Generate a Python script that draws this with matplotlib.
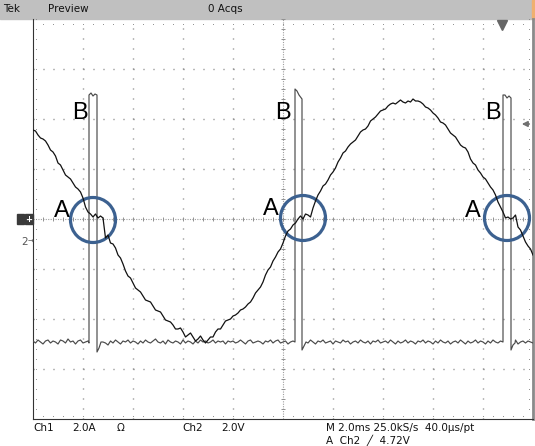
import numpy as np
import matplotlib
matplotlib.use("Agg")
import matplotlib.pyplot as plt
from matplotlib.patches import Circle, Rectangle

# time grid of the record, ms (2 ms/div, 10 div)
t_ms = np.round(np.arange(-10.0, 10.001, 0.1), 2)

# Ch1 current, A (2.0 A/div)
ch1_amps = [
    3.56, 3.52, 3.36, 3.24, 3.20, 3.12, 2.96, 2.76, 2.68, 2.52,
    2.24, 2.16, 1.96, 1.76, 1.68, 1.60, 1.44, 1.28, 1.20, 1.08,
    0.84, 0.48, 0.28, 0.20, 0.08, 0.20, 0.04, 0.12, 0.04, -0.76,
    -0.64, -0.96, -1.00, -1.16, -1.44, -1.56, -1.80, -2.08, -2.28, -2.36,
    -2.56, -2.76, -2.84, -2.92, -3.08, -3.24, -3.28, -3.32, -3.48, -3.64,
    -3.68, -3.72, -3.88, -4.04, -4.08, -4.12, -4.24, -4.40, -4.40, -4.36,
    -4.52, -4.72, -4.64, -4.56, -4.72, -4.88, -4.80, -4.68, -4.84, -4.96,
    -4.84, -4.72, -4.72, -4.52, -4.40, -4.40, -4.24, -4.08, -4.04, -4.00,
    -3.88, -3.84, -3.76, -3.64, -3.60, -3.52, -3.40, -3.32, -3.16, -2.96,
    -2.84, -2.72, -2.52, -2.24, -2.04, -1.92, -1.68, -1.52, -1.32, -1.20,
    -0.96, -0.68, -0.48, -0.40, -0.24, -0.16, 0.00, 0.12, 0.00, 0.20,
    0.16, 0.08, 0.44, 0.72, 0.96, 1.12, 1.32, 1.40, 1.56, 1.76,
    1.88, 2.04, 2.28, 2.44, 2.64, 2.72, 2.88, 3.00, 3.08, 3.16,
    3.32, 3.48, 3.56, 3.60, 3.72, 3.92, 4.00, 4.08, 4.20, 4.32,
    4.36, 4.40, 4.52, 4.60, 4.64, 4.60, 4.68, 4.76, 4.68, 4.64,
    4.72, 4.68, 4.80, 4.72, 4.72, 4.68, 4.60, 4.48, 4.44, 4.36,
    4.24, 4.16, 4.04, 3.88, 3.84, 3.76, 3.60, 3.44, 3.36, 3.28,
    3.12, 2.96, 2.88, 2.84, 2.68, 2.40, 2.24, 2.16, 1.96, 1.84,
    1.68, 1.60, 1.44, 1.28, 1.16, 0.96, 0.68, 0.48, 0.28, 0.04,
    0.08, 0.00, 0.04, 0.16, -0.32, -0.44, -0.68, -0.92, -1.08, -1.20,
    -1.44,
]

# Ch2 baseline, V (2.0 V/div)
ch2_volts = [
    -3.96, -4.04, -3.92, -4.00, -4.08, -3.96, -3.92, -4.04, -3.96, -4.00,
    -4.08, -3.92, -3.96, -4.04, -3.88, -4.00, -3.96, -4.08, -3.96, -3.92,
    -4.04, -4.00, -3.96, -4.08, -4.04, -3.96, -4.00, -4.08, -4.00, -4.04,
    -4.12, -3.96, -4.04, -3.92, -4.00, -4.08, -3.96, -4.00, -3.92, -4.04,
    -3.96, -4.00, -4.08, -3.96, -4.04, -3.92, -4.00, -4.04, -3.96, -3.88,
    -4.00, -4.04, -3.96, -4.08, -3.92, -4.00, -4.04, -3.96, -4.00, -4.08,
    -3.92, -4.04, -3.96, -4.00, -4.08, -3.96, -4.04, -3.92, -4.00, -3.96,
    -4.04, -4.00, -3.92, -4.04, -3.96, -4.00, -3.96, -4.08, -3.96, -4.00,
    -3.96, -4.04, -4.00, -3.92, -4.00, -4.08, -3.96, -3.92, -4.04, -4.00,
    -3.96, -4.00, -4.08, -3.96, -4.00, -3.92, -4.04, -3.96, -3.92, -4.04,
    -4.00, -3.96, -4.08, -4.00, -3.96, -4.04, -4.00, -4.08, -4.00, -3.96,
    -4.04, -3.92, -4.00, -4.08, -3.96, -4.00, -3.92, -4.04, -4.00, -3.96,
    -4.08, -3.96, -4.00, -4.04, -3.92, -4.00, -3.96, -4.08, -4.00, -3.96,
    -4.04, -3.92, -4.00, -4.04, -3.96, -4.08, -3.96, -4.00, -3.92, -4.04,
    -4.00, -3.96, -4.04, -3.92, -4.00, -4.08, -3.96, -4.04, -4.00, -3.92,
    -4.04, -3.96, -4.00, -4.08, -3.96, -4.00, -3.92, -4.04, -3.96, -4.00,
    -4.08, -3.96, -4.04, -3.92, -4.00, -4.04, -3.96, -4.08, -4.00, -3.96,
    -4.04, -3.92, -4.00, -4.08, -3.96, -4.04, -4.00, -3.92, -4.04, -3.96,
    -4.00, -4.08, -3.96, -4.04, -3.92, -4.00, -4.04, -3.96, -4.08, -4.00,
    -3.96, -4.04, -4.00, -3.92, -4.08, -4.00, -3.96, -4.04, -3.96, -4.00,
    -4.04,
]

# Ch2 gate pulses (time ms, volts)
pulse_t = [
    [-7.76, -7.76, -7.68, -7.60, -7.52, -7.44, -7.44, -7.36, -7.28],
    [0.48, 0.48, 0.56, 0.64, 0.76, 0.76, 0.84, 0.92],
    [8.80, 8.80, 8.88, 8.96, 9.04, 9.12, 9.12, 9.20, 9.28],
]
pulse_v = [
    [-4.04, 5.88, 5.96, 5.84, 5.92, 5.88, -4.40, -4.24, -4.00],
    [-4.00, 6.12, 6.04, 5.88, 5.72, -4.32, -4.16, -4.00],
    [-4.00, 5.88, 5.88, 5.76, 5.84, 5.76, -4.32, -4.12, -4.04],
]

# marked zero crossings (A) and pulses (B)
circle_t = [-7.6, 0.8, 8.96]
circle_i = [-0.04, 0.04, 0.04]
label_a_t = [-8.86, -0.48, 7.6]
label_a_i = [0.08, 0.16, 0.08]
label_b_t = [-8.12, 0.0, 8.4]
label_b_i = [4.0, 4.0, 4.0]

trigger_level = 4.72   # V on Ch2
trigger_time = 8.76    # ms
ch2_offset_div = -0.46

W, H = 535, 446
fig = plt.figure(figsize=(W / 100, H / 100), dpi=100)
fig.patch.set_facecolor("white")

def fx(px):
    return px / W

def fy(py):
    return 1 - py / H

ax = fig.add_axes([fx(33), fy(419), 500 / W, 400 / H])
ax.set_xlim(-10, 10)
ax.set_ylim(-8, 8)
ax.set_xticks([])
ax.set_yticks([])
ax.patch.set_alpha(0)
for s in ["left", "bottom"]:
    ax.spines[s].set_color("#333333")
    ax.spines[s].set_linewidth(0.8)
ax.spines["right"].set_color("#8a8a8a")
ax.spines["right"].set_linewidth(2.0)
ax.spines["top"].set_visible(False)

# graticule
dot = (0, (0.72, 6.48))
for x in np.arange(-8, 10, 2):
    if x != 0:
        ax.axvline(x, color="#777777", lw=1.0, ls=dot, zorder=0)
for y in np.arange(-6, 8, 2):
    if y != 0:
        ax.axhline(y, color="#777777", lw=1.0, ls=dot, zorder=0)
ax.axhline(0, color="#a0a0a0", lw=0.8, ls=(0, (1, 1.2)), zorder=0)
ax.axvline(0, color="#a0a0a0", lw=0.8, ls=(0, (1, 1.2)), zorder=0)
ticks_t = np.arange(-10, 10.01, 0.4)
ticks_i = np.arange(-8, 8.01, 0.4)
ax.plot(ticks_t, np.zeros_like(ticks_t), ls="none", marker="|", ms=3.5,
        mew=0.7, color="#909090", zorder=0)
ax.plot(np.zeros_like(ticks_i), ticks_i, ls="none", marker="_", ms=3.5,
        mew=0.7, color="#909090", zorder=0)
# edge ticks
edge = dict(ls="none", marker="s", ms=0.6, mew=0, color="#8a8a8a", zorder=0)
ax.plot(ticks_t, np.full_like(ticks_t, -7.88), **edge)
ax.plot(ticks_t, np.full_like(ticks_t, 7.8), **edge)
ax.plot(np.full_like(ticks_i, -9.88), ticks_i, **edge)
ax.plot(np.full_like(ticks_i, 9.84), ticks_i, **edge)

# Ch2 on its own scale
ax2 = ax.twinx()
ax2.set_ylim((-4 - ch2_offset_div) * 2.0, (4 - ch2_offset_div) * 2.0)
ax2.set_yticks([])
for s in ax2.spines.values():
    s.set_visible(False)

t_arr = np.asarray(t_ms)
v_arr = np.asarray(ch2_volts)
tr_t, tr_v = [], []
start = -np.inf
for pt, pv in zip(pulse_t, pulse_v):
    m = (t_arr > start) & (t_arr < pt[0])
    tr_t += list(t_arr[m]) + pt
    tr_v += list(v_arr[m]) + pv
    start = pt[-1]
m = t_arr > start
tr_t += list(t_arr[m])
tr_v += list(v_arr[m])
ax2.plot(tr_t, tr_v, color="#4a4a4a", lw=0.85, zorder=2)

# trigger level arrow
ax2.annotate("", xy=(0.972, trigger_level), xytext=(0.998, trigger_level),
             xycoords=("axes fraction", "data"),
             textcoords=("axes fraction", "data"),
             arrowprops=dict(arrowstyle="-|>", color="#707070", lw=1.2,
                             mutation_scale=8))

# Ch1
ax2.set_zorder(1)
ax3 = fig.add_axes(ax.get_position(), sharex=ax, sharey=ax)
ax3.axis("off")
ax3.set_zorder(2)
ax3.plot(t_ms, ch1_amps, color="#111111", lw=0.9)

# trigger position
ax3.plot([trigger_time], [0.985], marker="v", ms=7, color="#666666",
         transform=ax3.get_xaxis_transform(), clip_on=False)

for t, i in zip(circle_t, circle_i):
    ax3.add_patch(Circle((t, i), 0.9, fill=False, ec="#3c6190", lw=2.3))
for t, i in zip(label_a_t, label_a_i):
    ax3.text(t, i, "A", ha="center", va="baseline", fontsize=17,
             family="Liberation Sans")
for t, i in zip(label_b_t, label_b_i):
    ax3.text(t, i, "B", ha="center", va="baseline", fontsize=17,
             family="Liberation Sans")

# header bar
fig.add_artist(Rectangle((0, fy(19)), 1, 19 / H, transform=fig.transFigure,
                         color="#c0c0c0", zorder=-1))
fig.add_artist(Rectangle((fx(532), fy(19)), 3 / W, 19 / H,
                         transform=fig.transFigure, color="#f0b070", zorder=-1))
hdr = dict(fontsize=7.5, va="center", family="DejaVu Sans", color="#111111")
fig.text(fx(3), fy(9), "Tek", **hdr)
fig.text(fx(48), fy(9), "Preview", **hdr)
fig.text(fx(208), fy(9), "0 Acqs", **hdr)

# channel markers
fig.add_artist(Rectangle((fx(17), fy(224)), 7 / W, 10 / H,
                         transform=fig.transFigure, color="#3a3a3a"))
fig.add_artist(Rectangle((fx(25), fy(224)), 8 / W, 10 / H,
                         transform=fig.transFigure, color="#3a3a3a"))
fig.text(fx(29), fy(219), "+", color="white", fontsize=6, ha="center",
         va="center", weight="bold")
fig.text(fx(21), fy(242), "2", color="#555555", fontsize=7.5, va="center")
fig.text(fx(28), fy(242), "\u2192", color="#555555", fontsize=5, va="center")

# bottom readout
ft = dict(fontsize=7.5, va="center", family="DejaVu Sans", color="#111111")
fig.text(fx(33), fy(428), "Ch1", **ft)
fig.text(fx(72), fy(428), "2.0A", **ft)
fig.text(fx(117), fy(428), "\u03a9", **ft)
fig.text(fx(182), fy(428), "Ch2", **ft)
fig.text(fx(221), fy(428), "2.0V", **ft)
fig.text(fx(326), fy(428), "M 2.0ms 25.0kS/s  40.0\u00b5s/pt", **ft)
fig.text(fx(326), fy(440), "A  Ch2  \u2571  4.72V", **ft)

fig.savefig("out.png", dpi=100)
